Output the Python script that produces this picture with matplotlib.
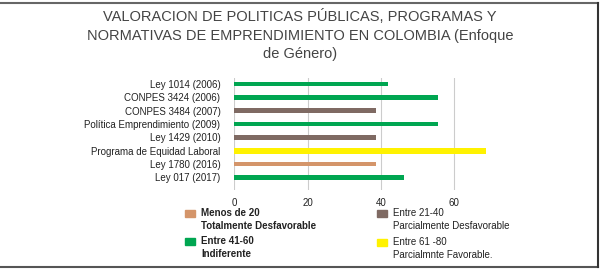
import matplotlib
matplotlib.use("Agg")
from matplotlib import pyplot as plt
from matplotlib.patches import Rectangle
from matplotlib.lines import Line2D

# data
programas = ['Ley 1014 (2006)', 'CONPES 3424 (2006)', 'CONPES 3484 (2007)',
             'Política Emprendimiento (2009)', 'Ley 1429 (2010)',
             'Programa de Equidad Laboral', 'Ley 1780 (2016)', 'Ley 017 (2017)']
valores = [42, 55.5, 38.7, 55.5, 38.7, 68.8, 38.7, 46.4]
rango = ['41-60', '41-60', '21-40', '41-60', '21-40', '61-80', '0-20', '41-60']

colores = {'0-20': '#D4956A', '21-40': '#7F6A63', '41-60': '#00A651', '61-80': '#FFF200'}
grosor = {'0-20': 0.36, '21-40': 0.36, '41-60': 0.36, '61-80': 0.45}

ley_tit = [('Menos de 20', 'Totalmente Desfavorable'), ('Entre 41-60', 'Indiferente'),
           ('Entre 21-40', 'Parcialmente Desfavorable'), ('Entre 61 -80', 'Parcialmnte Favorable.')]
ley_col = ['0-20', '41-60', '21-40', '61-80']

plt.rcParams['font.family'] = ['Liberation Sans', 'DejaVu Sans']

fig = plt.figure(figsize=(6, 2.7), dpi=100)

fig.text(0.5, 0.966, 'VALORACION DE POLITICAS PÚBLICAS, PROGRAMAS Y\n'
         'NORMATIVAS DE EMPRENDIMIENTO EN COLOMBIA (Enfoque\nde Género)',
         ha='center', va='top', fontsize=10.5, color='#444444', linespacing=1.4)

ax = fig.add_axes([234.3 / 600, (270 - 190) / 270, 293.2 / 600, 112 / 270])
for i, (v, r) in enumerate(zip(valores, rango)):
    ax.barh(i, v, height=grosor[r], color=colores[r], zorder=3)
ax.set_xlim(0, 80)
ax.set_ylim(7.95, -0.45)
ax.set_xticks([0, 20, 40, 60])
ax.set_yticks(range(len(programas)))
ax.set_yticklabels(programas)
ax.tick_params(length=0, labelsize=7, colors='#222222')
ax.tick_params(axis='y', pad=10)
ax.tick_params(axis='x', pad=6)
ax.grid(axis='x', color='#cccccc', linewidth=0.8, zorder=0)
for s in ax.spines.values():
    s.set_visible(False)

# legend
pos = [(190, 213), (190, 241), (382, 213), (382, 242)]
for (x, y), (t1, t2), c, k in zip(pos, ley_tit, ley_col, range(4)):
    fig.add_artist(Rectangle(((x - 5) / 600, 1 - (y + 3.5) / 270), 10 / 600, 7 / 270,
                             transform=fig.transFigure, color=colores[c]))
    w = 'bold' if k < 2 else 'normal'
    fig.text((x + 11) / 600, 1 - y / 270, t1, fontsize=7, va='center', color='#222222', fontweight=w)
    fig.text((x + 11) / 600, 1 - (y + 13) / 270, t2, fontsize=7, va='center', color='#222222', fontweight=w)

# frame
fig.add_artist(Line2D([0, 598 / 600], [1 - 2.5 / 270] * 2, color='#666666', lw=1.5, transform=fig.transFigure))
fig.add_artist(Line2D([0, 598 / 600], [1 - 266.5 / 270] * 2, color='#555555', lw=1.5, transform=fig.transFigure))
fig.add_artist(Line2D([598 / 600] * 2, [1 - 2.5 / 270, 1 - 266.5 / 270], color='#333333', lw=1.5, transform=fig.transFigure))

fig.savefig('out.png', dpi=100)
